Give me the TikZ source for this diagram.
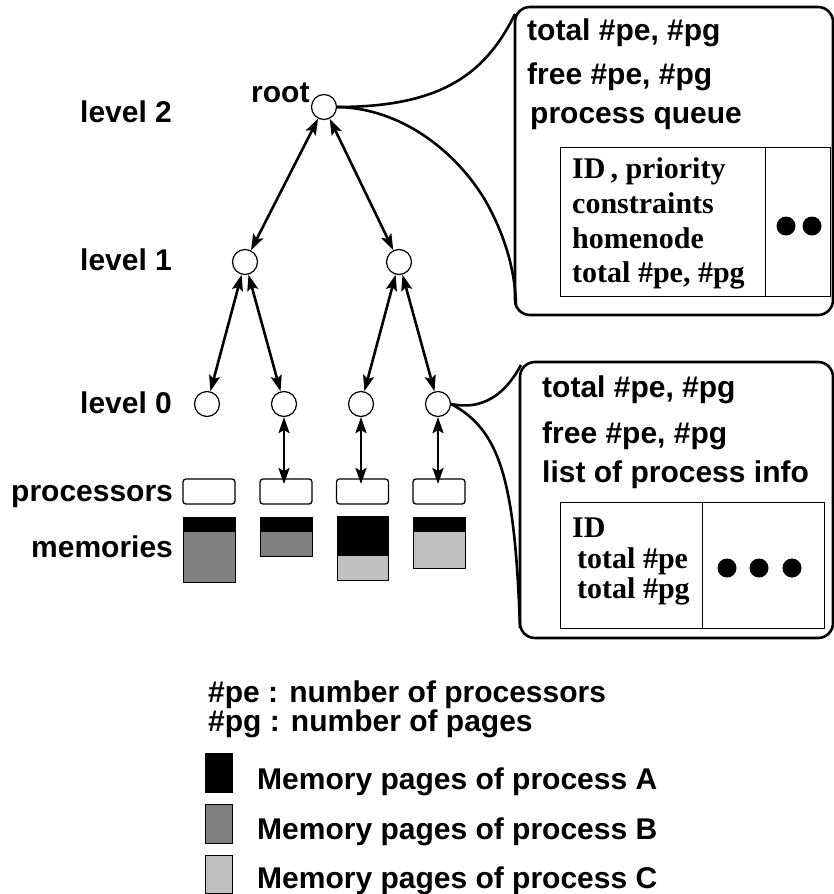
\documentclass[tikz,border=0pt]{standalone}
\usepackage{fontspec}
\setmainfont{Liberation Sans}
\newfontfamily\tabfont{Liberation Serif}
\usetikzlibrary{arrows.meta}

\definecolor{pageB}{HTML}{808080}
\definecolor{pageC}{HTML}{C0C0C0}

\tikzset{
  lbl/.style={anchor=base west, inner sep=0pt, font=\fontsize{30}{36}\selectfont\bfseries},
  tbl/.style={anchor=base west, inner sep=0pt, font=\tabfont\fontsize{30}{36}\selectfont\bfseries},
  vert/.style={circle, draw, line width=1.2pt, minimum size=25pt, inner sep=0pt},
  proc/.style={rectangle, rounded corners=3pt, draw, line width=1.3pt,
               minimum width=52pt, minimum height=25pt, inner sep=0pt},
  link/.style={line width=2.6pt,
               {Stealth[length=16pt,width=11pt,inset=3pt]}-{Stealth[length=16pt,width=11pt,inset=3pt]}},
  callout/.style={line width=2.6pt, rounded corners=15pt},
  lead/.style={line width=2.6pt},
  page/.style={line width=1pt},
  dot/.style={circle, fill=black, inner sep=0pt, minimum size=19pt},
}

\begin{document}
\begin{tikzpicture}[x=1pt, y=-1pt]
\useasboundingbox (0,0) rectangle (834,894);

% ---- hierarchy of control nodes
\node[vert] (root) at (324,107) {};
\node[vert] (m1) at (245,262) {};
\node[vert] (m2) at (399,262) {};
\node[vert] (c1) at (207,404) {};
\node[vert] (c2) at (284,404) {};
\node[vert] (c3) at (361,404) {};
\node[vert] (c4) at (438,404) {};

\node[lbl] (lroot) at (251,102) {root};
\node[lbl] (lv2) at (80,122) {level 2};
\node[lbl] (lv1) at (80,270) {level 1};
\node[lbl] (lv0) at (80,413) {level 0};
\node[lbl] (lproc) at (11,501) {processors};
\node[lbl] (lmem) at (31,557) {memories};

\draw[link] (root) -- (m1);
\draw[link] (root) -- (m2);
\draw[link] (m1) -- (c1);
\draw[link] (m1) -- (c2);
\draw[link] (m2) -- (c3);
\draw[link] (m2) -- (c4);

% ---- processors
\node[proc] (p1) at (209,491.5) {};
\node[proc] (p2) at (286,491.5) {};
\node[proc] (p3) at (362.5,491.5) {};
\node[proc] (p4) at (439,491.5) {};

\coordinate (t2) at (284,484);
\coordinate (t3) at (361,484);
\coordinate (t4) at (438,484);
\draw[link] (c2) -- (t2);
\draw[link] (c3) -- (t3);
\draw[link] (c4) -- (t4);

% ---- memories
\filldraw[page, fill=pageB] (183,531) rectangle (235,582);
\filldraw[page, fill=black] (183,517) rectangle (235,531);
\filldraw[page, fill=pageB] (260,531) rectangle (312,556);
\filldraw[page, fill=black] (260,517) rectangle (312,531);
\filldraw[page, fill=pageC] (337,555) rectangle (388,580);
\filldraw[page, fill=black] (337,516) rectangle (388,555);
\filldraw[page, fill=pageC] (413,531) rectangle (465,568);
\filldraw[page, fill=black] (413,517) rectangle (465,531);

% ---- root information callout
\draw[callout] (515,7) rectangle (833,315);
\draw[lead] (root.east) .. controls (440,107) and (485,75) .. (515,14);
\draw[lead] (root.east) .. controls (400,108) and (455,150) .. (485,200)
                         .. controls (505,235) and (515,270) .. (516,305);
\node[lbl] (rt1) at (527,40) {total \#pe, \#pg};
\node[lbl] (rt2) at (527,84) {free \#pe, \#pg};
\node[lbl] (rt3) at (530,123) {process queue};
\draw[line width=1pt] (560,147) rectangle (830,296);
\draw[line width=1pt] (765,147) -- (765,296);
\node[tbl] (q1) at (572,178) {ID\,, priority};
\node[tbl] (q2) at (572,213) {constraints};
\node[tbl] (q3) at (572,248) {homenode};
\node[tbl] (q4) at (572,282) {total \#pe, \#pg};
\node[dot] (qd1) at (786,226) {};
\node[dot] (qd2) at (812,226) {};

% ---- leaf information callout
\draw[callout] (520,362) rectangle (833,638);
\draw[lead] (c4.east) .. controls (490,412) and (510,385) .. (521,365);
\draw[lead] (c4.east) .. controls (500,430) and (515,480) .. (520,628);
\node[lbl] (lt1) at (542,397) {total \#pe, \#pg};
\node[lbl] (lt2) at (542,443) {free \#pe, \#pg};
\node[lbl] (lt3) at (542,482) {list of process info};
\draw[line width=1pt] (560,502) rectangle (824,628);
\draw[line width=1pt] (702,502) -- (702,628);
\node[tbl] (i1) at (572,537) {ID};
\node[tbl] (i2) at (577,568) {total \#pe};
\node[tbl] (i3) at (577,598) {total \#pg};
\node[dot] (id1) at (727,568) {};
\node[dot] (id2) at (759,568) {};
\node[dot] (id3) at (792,568) {};

% ---- notation and legend
\node[lbl] (n1) at (208,702) {\#pe : number of processors};
\node[lbl] (n2) at (208,731) {\#pg : number of pages};
\filldraw[page, fill=black] (205,753) rectangle (232,792);
\filldraw[page, fill=pageB] (205,804) rectangle (232,843);
\filldraw[page, fill=pageC] (205,855) rectangle (232,893);
\node[lbl] (ka) at (257,789) {Memory pages of process A};
\node[lbl] (kb) at (257,839) {Memory pages of process B};
\node[lbl] (kc) at (257,888) {Memory pages of process C};
\end{tikzpicture}
\end{document}
